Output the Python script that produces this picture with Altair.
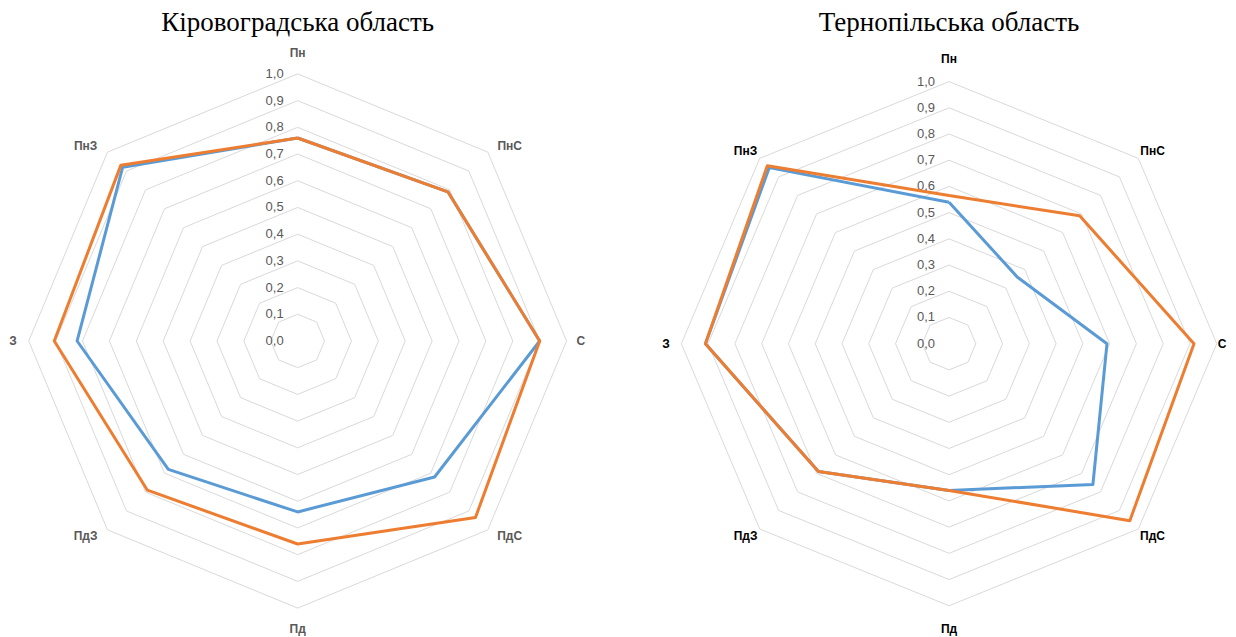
import altair as alt
import pandas as pd

# Directions (clockwise from north)
cats = ["Пн", "ПнС", "С", "ПдС", "Пд", "ПдЗ", "З", "ПнЗ"]

# Radial axis ticks
ticks = [0.0, 0.1, 0.2, 0.3, 0.4, 0.5, 0.6, 0.7, 0.8, 0.9, 1.0]
tick_labels = ["0,0", "0,1", "0,2", "0,3", "0,4", "0,5", "0,6", "0,7", "0,8", "0,9", "1,0"]

# Кіровоградська область
kir_blue = [0.76, 0.79, 0.90, 0.72, 0.64, 0.68, 0.82, 0.92]
kir_orange = [0.76, 0.79, 0.90, 0.935, 0.76, 0.79, 0.905, 0.93]

# Тернопільська область
ter_blue = [0.54, 0.36, 0.59, 0.76, 0.56, 0.69, 0.91, 0.95]
ter_orange = [0.565, 0.69, 0.915, 0.955, 0.56, 0.69, 0.91, 0.96]

BLUE = "#5B9BD5"
ORANGE = "#ED7D31"


def loop_df(vals):
    return pd.DataFrame({"idx": list(range(9)), "value": [vals[i % 8] for i in range(9)]})


def radar(title, blue, orange, width, height, xdom, ydom, label_color, fac, title_y):
    cw, ce, cv, dh, dv = fac
    X = alt.X("x:Q", scale=alt.Scale(domain=xdom, nice=False, zero=False), axis=None)
    Y = alt.Y("y:Q", scale=alt.Scale(domain=ydom, nice=False, zero=False), axis=None)

    ring_df = pd.DataFrame([{"ring": t, "idx": i} for t in ticks for i in range(9)])
    rings = alt.Chart(ring_df).transform_calculate(
        x="datum.ring*sin(datum.idx*PI/4)", y="datum.ring*cos(datum.idx*PI/4)"
    ).mark_line(color="#d9d9d9", strokeWidth=1).encode(
        x=X, y=Y, detail="ring:N", order="idx:Q"
    )

    tick_df = pd.DataFrame({"ring": ticks, "label": tick_labels})
    tick_text = alt.Chart(tick_df).transform_calculate(
        x="0", y="datum.ring"
    ).mark_text(
        align="right", baseline="middle", dx=-14, fontSize=13,
        color="#595959", font="Liberation Sans"
    ).encode(x=X, y=Y, text="label:N")

    def series(vals, color):
        return alt.Chart(loop_df(vals)).transform_calculate(
            x="datum.value*sin(datum.idx*PI/4)", y="datum.value*cos(datum.idx*PI/4)"
        ).mark_line(color=color, strokeWidth=3, strokeJoin="round").encode(
            x=X, y=Y, order="idx:Q"
        )

    cat_df = pd.DataFrame({"cat": cats, "idx": list(range(8))})
    diag = "abs(sin(datum.idx*PI/4)*cos(datum.idx*PI/4)) > 0.1"
    cat_text = alt.Chart(cat_df).transform_calculate(
        x=f"sin(datum.idx*PI/4)*({diag} ? {dh} : (sin(datum.idx*PI/4) > 0.5 ? {ce} : {cw}))",
        y=f"cos(datum.idx*PI/4)*({diag} ? {dv} : {cv})",
    ).mark_text(
        fontSize=12, fontWeight="bold", color=label_color,
        font="Liberation Sans", baseline="middle", align="center"
    ).encode(x=X, y=Y, text="cat:N")

    title_text = alt.Chart(pd.DataFrame({"t": [title]})).transform_calculate(
        x="0", y=str(title_y)
    ).mark_text(
        font="Liberation Serif", fontSize=27, color="#000000",
        baseline="middle", align="center"
    ).encode(x=X, y=Y, text="t:N")

    return alt.layer(
        rings, tick_text, series(blue, BLUE), series(orange, ORANGE), cat_text, title_text
    ).properties(width=width, height=height)


left = radar(
    "Кіровоградська область", kir_blue, kir_orange, 600, 629,
    [-1.077, 1.154], [-1.112, 1.243], "#595959",
    (1.058, 1.053, 1.08, 1.115, 1.035), 1.19,
)
right = radar(
    "Тернопільська область", ter_blue, ter_orange, 620, 629,
    [-1.274, 1.042], [-1.123, 1.277], "#000000",
    (1.057, 1.02, 1.087, 1.075, 1.04), 1.224,
)

chart = alt.hconcat(left, right, spacing=0).properties(padding=0).configure_view(stroke=None)

chart.save("out.html", embed_options={"renderer": "svg", "actions": False})
